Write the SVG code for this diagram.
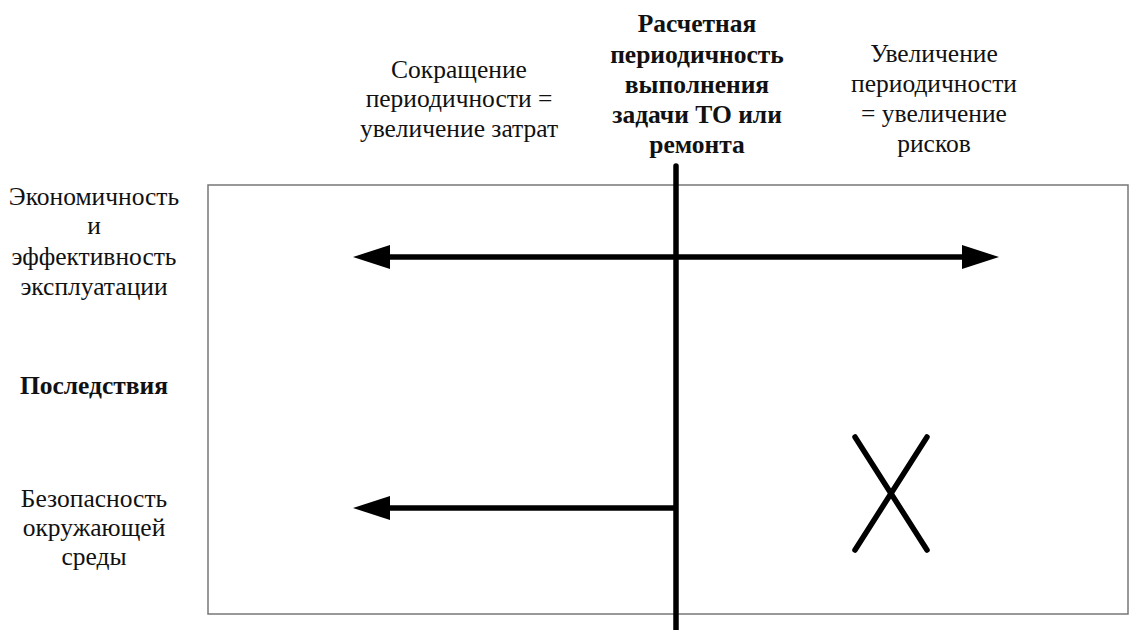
<svg xmlns="http://www.w3.org/2000/svg" width="1129" height="630" viewBox="0 0 1129 630">
<style>
text{font-size:25.5px;fill:#111;text-anchor:middle}
.b{font-weight:bold}
.ln{stroke:#000;stroke-width:5.5;fill:none}
</style>
<defs>
<marker id="ah" markerUnits="userSpaceOnUse" markerWidth="40" markerHeight="26" refX="17" refY="13" orient="auto">
<path d="M0,1 L37,13 L0,25 Z" fill="#000"/>
</marker>
</defs>
<rect width="1129" height="630" fill="#fff"/>
<g id="frame"><rect x="208" y="185" width="920" height="429" fill="none" stroke="#777" stroke-width="1.5"/></g>
<g font-family="'Liberation Serif', 'DejaVu Serif', serif">
<g id="header-left"><text x="459" y="78">Сокращение</text><text x="459" y="107">периодичности =</text><text x="459" y="137">увеличение затрат</text></g>
<g id="header-center"><text class="b" x="697" y="32">Расчетная</text><text class="b" x="697" y="63">периодичность</text><text class="b" x="697" y="93">выполнения</text><text class="b" x="697" y="123">задачи ТО или</text><text class="b" x="697" y="153">ремонта</text></g>
<g id="header-right"><text x="934" y="62">Увеличение</text><text x="934" y="92">периодичности</text><text x="934" y="122">= увеличение</text><text x="934" y="152">рисков</text></g>
<g id="row-economy"><text x="94" y="205">Экономичность</text><text x="94" y="234">и</text><text x="94" y="265">эффективность</text><text x="94" y="295">эксплуатации</text></g>
<g id="row-consequences"><text class="b" x="94" y="394">Последствия</text></g>
<g id="row-safety"><text x="94" y="507">Безопасность</text><text x="94" y="536">окружающей</text><text x="94" y="565">среды</text></g>
</g>
<g id="connectors">
<line class="ln" x1="676" y1="166" x2="676" y2="630" stroke-width="6" stroke-linecap="round"/>
<line class="ln" x1="676" y1="257" x2="373" y2="257" marker-end="url(#ah)"/>
<line class="ln" x1="676" y1="257" x2="979" y2="257" marker-end="url(#ah)"/>
<line class="ln" x1="676" y1="508" x2="373" y2="508" marker-end="url(#ah)"/>
</g>
<g id="cross"><line class="ln" x1="855" y1="437" x2="927" y2="550" stroke-width="5" stroke-linecap="round"/><line class="ln" x1="927" y1="437" x2="855" y2="550" stroke-width="5" stroke-linecap="round"/></g>
</svg>
